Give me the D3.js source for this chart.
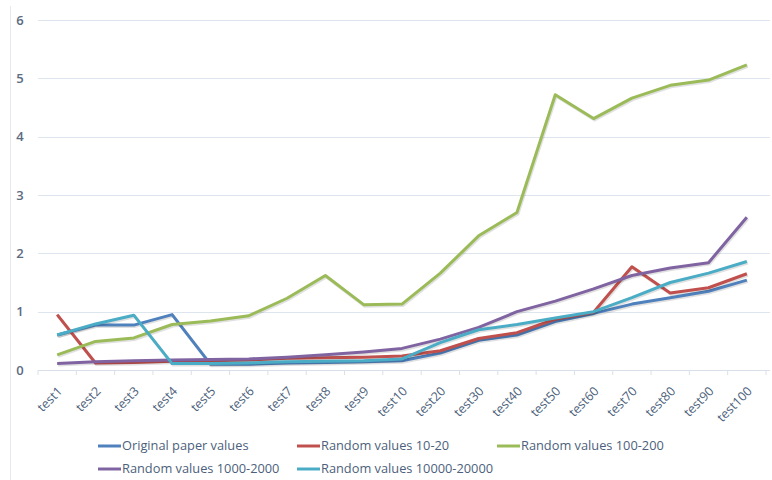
<!DOCTYPE html>
<html>
<head>
<meta charset="utf-8">
<script src="https://cdn.jsdelivr.net/npm/d3@7"></script>
<style>
  html, body { margin: 0; padding: 0; background: #ffffff; }
  svg { display: block; font-family: "Open Sans", "Noto Sans", sans-serif; }
</style>
</head>
<body>
<svg id="chart" width="772" height="480"></svg>
<script>
// Category labels along the x axis
const categories = ["test1","test2","test3","test4","test5","test6","test7","test8","test9","test10",
  "test20","test30","test40","test50","test60","test70","test80","test90","test100"];

// Series values (one per category)
const originalPaper = [0.60,0.77,0.77,0.95,0.10,0.10,0.12,0.13,0.14,0.16,0.29,0.51,0.60,0.83,0.97,1.13,1.24,1.35,1.54];
const random10to20 = [0.95,0.12,0.13,0.15,0.16,0.17,0.20,0.21,0.22,0.24,0.33,0.54,0.64,0.87,0.99,1.77,1.32,1.41,1.65];
const random100to200 = [0.26,0.49,0.55,0.78,0.84,0.93,1.23,1.62,1.12,1.13,1.66,2.30,2.70,4.72,4.31,4.66,4.88,4.97,5.23];
const random1000to2000 = [0.11,0.14,0.16,0.17,0.18,0.19,0.22,0.26,0.31,0.37,0.53,0.73,1.00,1.18,1.39,1.62,1.75,1.84,2.62];
const random10000to20000 = [0.60,0.79,0.94,0.11,0.11,0.12,0.14,0.15,0.16,0.19,0.47,0.69,0.78,0.89,1.00,1.24,1.50,1.66,1.86];

const seriesNames = ["Original paper values","Random values 10-20","Random values 100-200",
  "Random values 1000-2000","Random values 10000-20000"];
const seriesColors = ["#4F81BD","#C0504D","#9BBB59","#8064A2","#4BACC6"];
const seriesValues = [originalPaper, random10to20, random100to200, random1000to2000, random10000to20000];

const yTicks = [0,1,2,3,4,5,6];

const FONT = '"Open Sans", "Noto Sans", sans-serif';
const svg = d3.select("#chart");
const plot = { left: 38, right: 766, top: 20, bottom: 370 };

const x = d3.scaleBand().domain(categories).range([plot.left, plot.right]);
const y = d3.scaleLinear().domain([0, 6]).range([plot.bottom, plot.top]);

// chart frame edge
svg.append("line")
  .attr("x1", 10.5).attr("x2", 10.5).attr("y1", 6).attr("y2", 480)
  .attr("stroke", "#e4e9f0").attr("stroke-width", 1);

// horizontal gridlines
svg.append("g")
  .selectAll("line")
  .data(yTicks.filter(t => t > 0))
  .join("line")
  .attr("x1", plot.left).attr("x2", 770)
  .attr("y1", d => Math.round(y(d)) + 0.5).attr("y2", d => Math.round(y(d)) + 0.5)
  .attr("stroke", "#dde5ee").attr("stroke-width", 1);

// y axis labels
const yAxis = d3.axisLeft(y).tickValues(yTicks).tickSize(0).tickPadding(0).tickFormat(d3.format("d"));
const yg = svg.append("g").attr("transform", `translate(25,0)`).call(yAxis)
  .attr("font-family", FONT);
yg.select(".domain").remove();
yg.selectAll("text")
  .attr("fill", "#5b6b82").attr("font-size", 13).attr("font-weight", 600)
  .attr("text-anchor", "middle").attr("x", -5);

// x axis with ticks between categories
const xAxis = d3.axisBottom(x).tickSize(0).tickFormat(d => d);
const xg = svg.append("g").attr("transform", `translate(0,${plot.bottom})`).call(xAxis)
  .attr("font-family", FONT);
xg.select(".domain").attr("stroke", "#d9e0ea").attr("d", `M${plot.left},0.5H770`);
xg.selectAll(".tick text")
  .attr("fill", "#4d5f7c").attr("font-size", 12.5)
  .attr("text-anchor", "end")
  .attr("x", 0).attr("y", 0).attr("dy", 0)
  .attr("transform", "translate(6,22) rotate(-45)");
// separator tick marks at band edges
xg.append("g").selectAll("line")
  .data(d3.range(categories.length + 1))
  .join("line")
  .attr("x1", i => plot.left + i * x.step()).attr("x2", i => plot.left + i * x.step())
  .attr("y1", 0).attr("y2", 5)
  .attr("stroke", "#d9e0ea");

// series lines
const line = d3.line()
  .x((d, i) => x(categories[i]) + x.bandwidth() / 2)
  .y(d => y(d));

const lines = svg.append("g");
seriesValues.forEach((vals, k) => {
  lines.append("path")
    .datum(vals)
    .attr("d", line)
    .attr("fill", "none")
    .attr("stroke", "rgba(0,0,0,0.12)")
    .attr("stroke-width", 3)
    .attr("transform", "translate(1,1.5)");
  lines.append("path")
    .datum(vals)
    .attr("d", line)
    .attr("fill", "none")
    .attr("stroke", seriesColors[k])
    .attr("stroke-width", 3)
    .attr("stroke-linejoin", "round");
});

// legend
const legendPos = [[98,446],[297,446],[497,446],[98,469],[297,469]];
const lg = svg.append("g");
seriesNames.forEach((name, k) => {
  const [lx, ly] = legendPos[k];
  lg.append("line")
    .attr("x1", lx).attr("x2", lx + 23).attr("y1", ly).attr("y2", ly)
    .attr("stroke", seriesColors[k]).attr("stroke-width", 3);
  lg.append("text")
    .attr("x", lx + 24).attr("y", ly).attr("dy", "0.35em")
    .attr("fill", "#4d5f7c").attr("font-size", 12.8)
    .text(name);
});
</script>
</body>
</html>
